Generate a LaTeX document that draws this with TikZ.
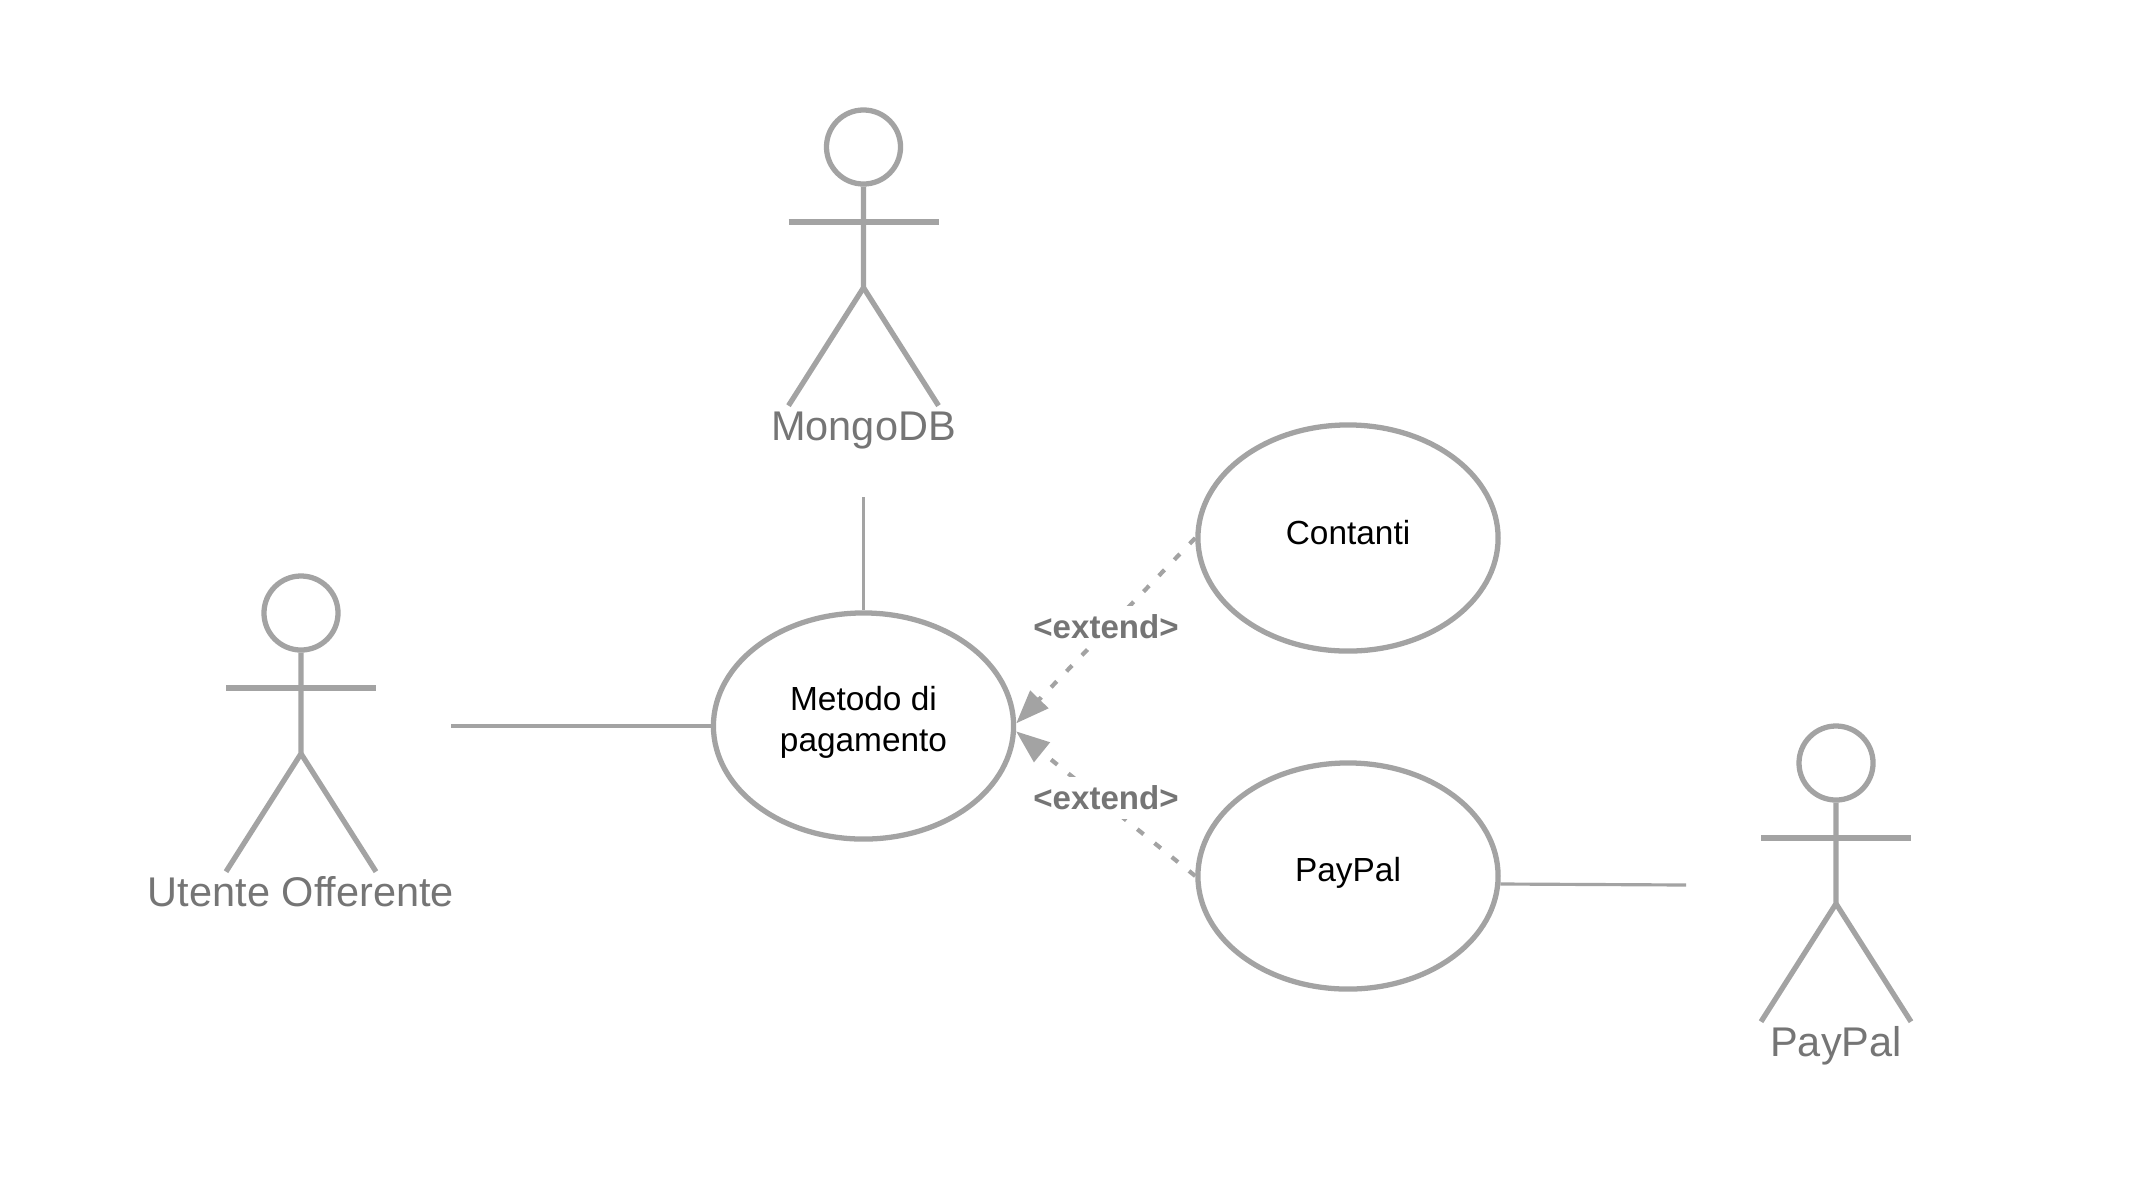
\documentclass[tikz,border=0pt]{standalone}
\usepackage{fontspec}
\setmainfont{Liberation Sans}
\usetikzlibrary{arrows.meta,shapes.geometric}
\definecolor{umlgray}{HTML}{A3A3A3}
\definecolor{umltext}{HTML}{757575}
\tikzset{
  actorhead/.style={circle,draw=umlgray,line width=1.5pt,inner sep=0pt,minimum size=0.74cm},
  actorline/.style={draw=umlgray,line width=1.5pt},
  actorlabel/.style={text=umltext,font=\fontsize{11.8}{14}\selectfont,inner sep=0pt,anchor=base},
  usecase/.style={ellipse,draw=umlgray,line width=1.5pt,inner sep=0pt,minimum width=3.0cm,minimum height=2.26cm},
  usecasetext/.style={font=\fontsize{9.5}{11.7}\selectfont,align=center,inner sep=0pt,anchor=base},
  assocline/.style={draw=umlgray,line width=0.9pt},
  extendline/.style={draw=umlgray,line width=1.2pt,dash pattern=on 2.3pt off 4pt,-{Triangle[length=9.5pt,width=7pt,fill=umlgray]}},
  extendlabel/.style={text=umltext,font=\fontsize{9.4}{11}\selectfont\bfseries,fill=white,inner sep=0pt,minimum height=0.42cm}
}
\newcommand{\actor}[3]{
  \node[actorhead] (#1head) at (#2) {};
  \draw[actorline] (#1head.south) -- ++(0,101) coordinate (#1hip) -- ++(-75,118);
  \draw[actorline] (#1hip) -- ++(75,118);
  \draw[actorline] ([shift={(-75,75)}]#1head.center) -- ++(150,0);
  \node[actorlabel] (#1label) at ([shift={(0,293)}]#1head.center) {#3};
}
\begin{document}
\begin{tikzpicture}[x=0.01cm,y=-0.01cm]
  \useasboundingbox (0,0) rectangle (2134,1178);

  \actor{mongodb}{863.5,147}{MongoDB}
  \actor{utente}{301,613}{Utente Offerente}
  \actor{paypalactor}{1836,763}{PayPal}

  \node[usecase] (metodo) at (863.5,726) {};
  \node[usecase] (contanti) at (1348,538) {};
  \node[usecase] (paypal) at (1348,876) {};
  \node[usecasetext,anchor=center] (metodotext) at ([shift={(0,-3.5)}]metodo.center) {Metodo di\\pagamento};
  \node[usecasetext] (contantitext) at ([shift={(0,6)}]contanti.center) {Contanti};
  \node[usecasetext] (paypaltext) at ([shift={(0,5.5)}]paypal.center) {PayPal};

  \coordinate (mongodbend) at (863.5,497);
  \coordinate (utenteend) at (451,726);
  \coordinate (paypalend) at (1686,885);

  \draw[assocline] (mongodbend) -- (metodo.north);
  \draw[assocline] (utenteend) -- (metodo.west);
  \draw[assocline] (paypal.-3.4) -- (paypalend);

  \draw[extendline] (contanti.west) -- (metodo.1);
  \draw[extendline] (paypal.west) -- (metodo.-2);
  \node[extendlabel] (extendtop) at (1106,627) {<extend>};
  \node[extendlabel] (extendbottom) at (1106,798) {<extend>};
\end{tikzpicture}
\end{document}
